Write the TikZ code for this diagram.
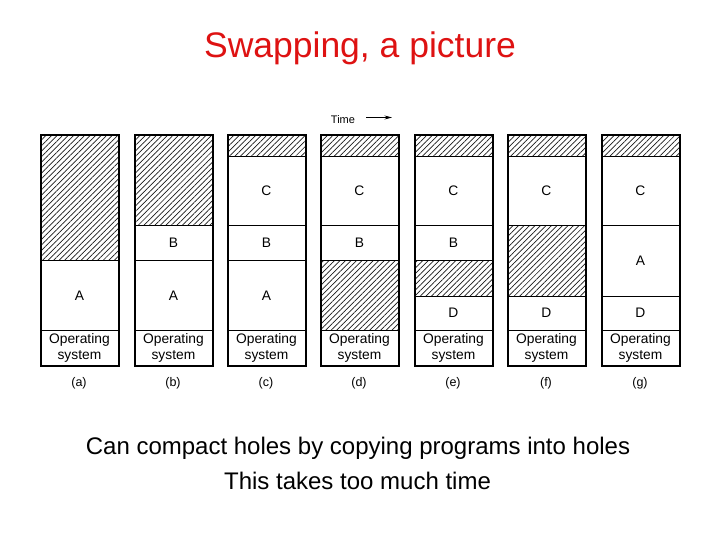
\documentclass[tikz,border=0pt]{standalone}
\usepackage{fontspec}
\setmainfont{Liberation Sans}
\usetikzlibrary{patterns.meta,arrows.meta}
\definecolor{titlered}{RGB}{222,18,18}
\tikzset{
  regbox/.style={draw=black,line width=0.9pt,rectangle,inner sep=0pt,minimum width=78pt,anchor=north west,font=\fontsize{13.8}{15.5}\selectfont,align=center},
  hole/.style={pattern={Lines[angle=45,distance=3.9pt,line width=0.7pt]},pattern color=black!90},
  colframe/.style={draw=black,line width=1.6pt,rectangle,inner sep=0pt,minimum width=78pt,minimum height=231pt,anchor=north west},
  collabel/.style={font=\fontsize{12.5}{14}\selectfont},
  bodytext/.style={font=\fontsize{24}{28}\selectfont,anchor=base},
}
\newcommand\reg[6]{\node[regbox,#6,minimum height={(#4-#3)*1pt}] (#1) at (#2,#3) {#5};}
\begin{document}
\begin{tikzpicture}[x=1pt,y=-1pt]
\useasboundingbox (0,0) rectangle (720,540);
\node[text=titlered,font=\fontsize{35.5}{40}\selectfont,anchor=base] (title) at (360,58) {Swapping, a picture};
\node[font=\fontsize{11}{13}\selectfont] (time) at (343,119.5) {Time};
\coordinate (timestart) at (366,117.5);
\coordinate (timeend) at (392,117.5);
\draw[line width=0.9pt,-{Stealth[length=7.5pt,width=4pt]}] (timestart) -- (timeend);
% (a)
\reg{a1}{40}{134}{260}{}{hole}
\reg{a2}{40}{260}{330}{A}{}
\reg{a3}{40}{330}{365}{Operating\\system}{}
% (b)
\reg{b1}{134}{134}{225}{}{hole}
\reg{b2}{134}{225}{260}{B}{}
\reg{b3}{134}{260}{330}{A}{}
\reg{b4}{134}{330}{365}{Operating\\system}{}
% (c)
\reg{c1}{227}{134}{156}{}{hole}
\reg{c2}{227}{156}{225}{C}{}
\reg{c3}{227}{225}{260}{B}{}
\reg{c4}{227}{260}{330}{A}{}
\reg{c5}{227}{330}{365}{Operating\\system}{}
% (d)
\reg{d1}{320}{134}{156}{}{hole}
\reg{d2}{320}{156}{225}{C}{}
\reg{d3}{320}{225}{260}{B}{}
\reg{d4}{320}{260}{330}{}{hole}
\reg{d5}{320}{330}{365}{Operating\\system}{}
% (e)
\reg{e1}{414}{134}{156}{}{hole}
\reg{e2}{414}{156}{225}{C}{}
\reg{e3}{414}{225}{260}{B}{}
\reg{e4}{414}{260}{295.5}{}{hole}
\reg{e5}{414}{295.5}{330}{D}{}
\reg{e6}{414}{330}{365}{Operating\\system}{}
% (f)
\reg{f1}{507}{134}{156}{}{hole}
\reg{f2}{507}{156}{225}{C}{}
\reg{f3}{507}{225}{295.5}{}{hole}
\reg{f4}{507}{295.5}{330}{D}{}
\reg{f5}{507}{330}{365}{Operating\\system}{}
% (g)
\reg{g1}{601}{134}{156}{}{hole}
\reg{g2}{601}{156}{225}{C}{}
\reg{g3}{601}{225}{295.5}{A}{}
\reg{g4}{601}{295.5}{330}{D}{}
\reg{g5}{601}{330}{365}{Operating\\system}{}
% frames and labels
\foreach \x/\l in {40/a,134/b,227/c,320/d,414/e,507/f,601/g}{
  \node[colframe] (frame\l) at (\x,134) {};
  \node[collabel] (lab\l) at (\x+39,383.5) {(\l)};
}
\node[bodytext] (line1) at (358,454) {Can compact holes by copying programs into holes};
\node[bodytext] (line2) at (357.5,489) {This takes too much time};
\end{tikzpicture}
\end{document}
